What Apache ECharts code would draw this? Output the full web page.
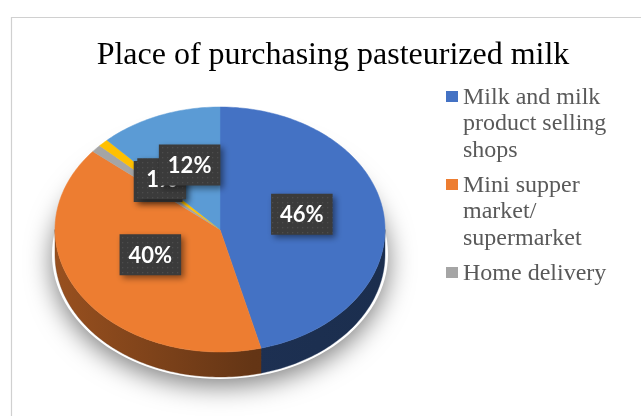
<!DOCTYPE html>
<html>
<head>
<meta charset="utf-8">
<script src="https://cdn.jsdelivr.net/npm/echarts@6/dist/echarts.min.js"></script>
<style>
  html, body { margin: 0; padding: 0; background: #ffffff; }
  #chart { width: 641px; height: 416px; }
</style>
</head>
<body>
<div id="chart"></div>
<script>
// Survey shares (percent) of where respondents buy pasteurized milk
const categories = [
  'Milk and milk product selling shops',
  'Mini supper market/supermarket',
  'Home delivery',
  'Dairy farm',
  'Other'
];
const shares = [46, 40, 1, 1, 12];
const sliceColors = ['#4472C4', '#ED7D31', '#A5A5A5', '#FFC000', '#5B9BD5'];
const legendCount = 3; // legend entries shown in the frame

// Layout of the tilted pie
const CX = 220, CY = 229.5;      // centre of the top face
const RX = 165, RY = 122.5;      // ellipse radii of the top face
const DEPTH = 25;                // thickness of the pie
const LABEL_CY = 222;            // perspective-corrected centre for labels
const LABEL_R = 0.5;             // labels sit halfway out

const total = shares.reduce((s, v) => s + v, 0);
const starts = [];
shares.reduce((acc, v, i) => { starts[i] = acc; return acc + v; }, 0);

function pt(theta, dy) {
  return [CX + RX * Math.sin(theta), CY - RY * Math.cos(theta) + (dy || 0)];
}
function arc(a0, a1, dy) {
  const n = Math.max(2, Math.ceil(Math.abs(a1 - a0) / 0.02));
  const out = [];
  for (let k = 0; k <= n; k++) out.push(pt(a0 + (a1 - a0) * k / n, dy));
  return out;
}
function shade(hex, f) {
  const c = parseInt(hex.slice(1), 16);
  const r = Math.round(((c >> 16) & 255) * f);
  const g = Math.round(((c >> 8) & 255) * f);
  const b = Math.round((c & 255) * f);
  return 'rgb(' + r + ',' + g + ',' + b + ')';
}

// dotted fill for the value boxes
const dotCanvas = document.createElement('canvas');
dotCanvas.width = 5; dotCanvas.height = 5;
(function () {
  const g = dotCanvas.getContext('2d');
  g.fillStyle = '#3b3b3b'; g.fillRect(0, 0, 5, 5);
  g.fillStyle = '#4c4c4c'; g.fillRect(2, 2, 1.3, 1.3);
})();

const LABEL_FONT = 'bold 22px Lato';
const measureCtx = document.createElement('canvas').getContext('2d');
function textWidth(s) { measureCtx.font = LABEL_FONT; return measureCtx.measureText(s).width; }

function renderSlice(params, api) {
  const i = params.dataIndex;
  const value = api.value(1);
  const a0 = starts[i] / total * Math.PI * 2;
  const a1 = (starts[i] + value) / total * Math.PI * 2;
  const color = sliceColors[i];
  const children = [];

  if (i === 0) {
    // soft shadow under the whole pie
    children.push({
      type: 'ellipse',
      shape: { cx: CX, cy: CY + DEPTH, rx: RX + 3, ry: RY + 2 },
      style: { fill: '#ffffff', shadowBlur: 26, shadowColor: 'rgba(0,0,0,0.5)', shadowOffsetY: 7 },
      z2: -10, silent: true
    });
  }

  // visible side wall (front half only)
  const s0 = Math.max(a0, Math.PI / 2), s1 = Math.min(a1, Math.PI * 1.5);
  if (s1 > s0) {
    const top = arc(s0, s1, 0);
    const bottom = arc(s1, s0, DEPTH);
    children.push({
      type: 'polygon',
      shape: { points: top.concat(bottom) },
      style: {
        fill: {
          type: 'linear', global: true, x: CX - RX, y: 0, x2: CX + RX, y2: 0,
          colorStops: [
            { offset: 0, color: shade(color, 0.64) },
            { offset: 0.6, color: shade(color, 0.42) },
            { offset: 1, color: shade(color, 0.4) }
          ]
        },
        stroke: shade(color, 0.45), lineWidth: 0.4
      },
      z2: 1
    });
  }

  // top face
  children.push({
    type: 'polygon',
    shape: { points: [[CX, CY]].concat(arc(a0, a1, 0)) },
    style: { fill: color, stroke: color, lineWidth: 0.5 },
    z2: 2
  });

  // value box
  const mid = (a0 + a1) / 2;
  const lx = CX + RX * LABEL_R * Math.sin(mid);
  const ly = LABEL_CY - RY * LABEL_R * Math.cos(mid);
  const txt = value + '%';
  const bw = textWidth(txt) + 18, bh = 41;
  children.push({
    type: 'rect',
    shape: { x: lx - bw / 2, y: ly - bh / 2, width: bw, height: bh },
    style: {
      fill: { image: dotCanvas, repeat: 'repeat' },
      shadowBlur: 6, shadowOffsetX: 3, shadowOffsetY: 3, shadowColor: 'rgba(0,0,0,0.45)'
    },
    z2: 100 + i * 2
  });
  children.push({
    type: 'text',
    style: {
      x: lx, y: ly + 1, text: txt, fill: '#ffffff', font: LABEL_FONT,
      align: 'center', verticalAlign: 'middle'
    },
    z2: 101 + i * 2
  });

  return { type: 'group', children: children };
}

// legend names wrapped to short lines
function wrapName(name, maxChars) {
  const parts = name.replace(/\//g, '/ ').split(/\s+/).filter(Boolean);
  const lines = [];
  let cur = '';
  parts.forEach(p => {
    const sep = cur && !cur.endsWith('/') ? ' ' : '';
    if (cur && (cur + sep + p).length > maxChars) { lines.push(cur); cur = p; }
    else cur = cur + sep + p;
  });
  if (cur) lines.push(cur);
  return lines;
}

const LEGEND_X = 446, LEGEND_Y = 91, LINE_H = 26.5, ITEM_GAP = 8.5;
const legendGraphics = [];
let ly = LEGEND_Y;
for (let i = 0; i < legendCount; i++) {
  const lines = wrapName(categories[i], 15);
  legendGraphics.push({
    type: 'rect', left: LEGEND_X, top: ly, shape: { width: 12, height: 11 },
    style: { fill: sliceColors[i] }
  });
  legendGraphics.push({
    type: 'text', left: LEGEND_X + 17, top: ly - 7,
    style: {
      text: lines.join('\n'), fill: '#595959',
      font: '24px "Liberation Serif"', lineHeight: LINE_H
    }
  });
  ly += lines.length * LINE_H + ITEM_GAP;
}

const chart = echarts.init(document.getElementById('chart'), null, { renderer: 'canvas' });
chart.setOption({
  backgroundColor: '#ffffff',
  animation: false,
  title: {
    text: 'Place of purchasing pasteurized milk',
    left: 328, top: 35, textAlign: 'center',
    textStyle: { fontFamily: 'Liberation Serif', fontWeight: 'normal', fontSize: 32, color: '#000000' }
  },
  graphic: [
    {
      type: 'rect', left: 9, top: 15, shape: { width: 700, height: 500 },
      style: { fill: 'none', stroke: '#d0d0d0', lineWidth: 1.2 }, z: -1
    }
  ].concat(legendGraphics),
  series: [{
    type: 'custom',
    coordinateSystem: 'none',
    renderItem: renderSlice,
    data: shares.map((v, i) => ({ name: categories[i], value: [i, v] }))
  }]
});
</script>
</body>
</html>
